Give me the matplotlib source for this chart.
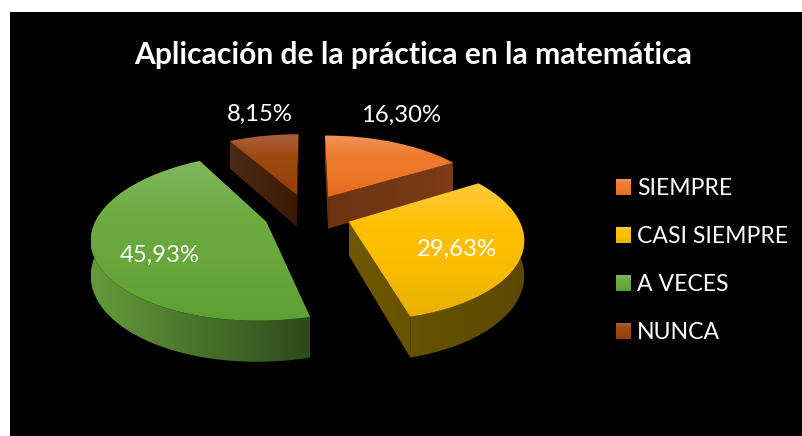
import numpy as np
import matplotlib
matplotlib.use('Agg')
import matplotlib.pyplot as plt
from matplotlib.colors import to_rgb
from matplotlib.patches import PathPatch, Rectangle
from matplotlib.path import Path

categories = ['SIEMPRE', 'CASI SIEMPRE', 'A VECES', 'NUNCA']
values = [16.30, 29.63, 45.93, 8.15]
title = 'Aplicación de la práctica en la matemática'

top_colors = [['#F0935C', '#EE7B2E', '#EC7726', '#E56B1C'],
              ['#FFC93E', '#FFC000', '#F8BC00', '#E8B100'],
              ['#7FB85E', '#6CAC40', '#66A63A', '#5FA035'],
              ['#AB6242', '#A04A10', '#9A4509', '#923F05']]
wall_colors = [['#6C3312', '#7B3C16'],
               ['#6E5800', '#5C4900'],
               ['#659A3C', '#2C4A1A'],
               ['#4E2A16', '#3A1900']]
label_pos = [(401, 115), (457, 249), (160, 255), (260, 114)]
legend_y = [187, 235, 283, 331]

FONT = 'Lato'
CX, CY = 307.5, 214
RX, RY = 168, 78
PERSP = 0.18
EXPLODE = 0.26
DEPTH = 33


def project(x, y):
    f = 1 / (1 + PERSP * y)
    return CX + RX * x * f, CY - RY * y * f, DEPTH * f


def ramp(colors, vertical):
    stops = np.linspace(0, 1, len(colors))
    rgb = np.array([to_rgb(c) for c in colors])
    pos = np.linspace(0, 1, 200)
    img = np.stack([np.interp(pos, stops, rgb[:, i]) for i in range(3)], axis=-1)
    if vertical:
        return img[:, None, :]
    return img[None, :, :]


def fill_gradient(ax, pts, extent, colors, vertical):
    patch = PathPatch(Path(pts), fc='none', ec='none', transform=ax.transData)
    ax.add_patch(patch)
    im = ax.imshow(ramp(colors, vertical), extent=extent, aspect='auto',
                   interpolation='bilinear', zorder=2)
    im.set_clip_path(patch)


def draw_slice(ax, start, end, top_cols, wall_cols):
    mid = (start + end) / 2
    ox, oy = EXPLODE * np.sin(mid), EXPLODE * np.cos(mid)
    t = np.linspace(start, end, 80)
    rim = project(ox + np.sin(t), oy + np.cos(t))
    apex = project(ox, oy)
    rim_top = np.column_stack([rim[0], rim[1]])
    rim_low = np.column_stack([rim[0], rim[1] + rim[2]])
    apex_top = np.array([[apex[0], apex[1]]])
    apex_low = np.array([[apex[0], apex[1] + apex[2]]])
    top = np.vstack([apex_top, rim_top, apex_top])

    all_x = np.concatenate([rim[0], [apex[0]]])
    all_y = np.concatenate([rim[1], [apex[1]]])
    wall_ext = (all_x.min(), all_x.max(), all_y.max() + 60, all_y.min())
    top_ext = (all_x.min(), all_x.max(), all_y.max(), all_y.min())

    faces = [np.vstack([apex_top, rim_top[:1], rim_low[:1], apex_low, apex_top]),
             np.vstack([apex_top, rim_top[-1:], rim_low[-1:], apex_low, apex_top]),
             np.vstack([rim_top, rim_low[::-1], rim_top[:1]])]
    for face in faces:
        fill_gradient(ax, face, wall_ext, wall_cols, False)
    fill_gradient(ax, top, top_ext, top_cols, True)


fig = plt.figure(figsize=(8.02, 4.36), dpi=100, facecolor='white')
ax = fig.add_axes([0, 0, 1, 1])
ax.axis('off')
ax.add_patch(Rectangle((10, 12), 792, 424, fc='black', ec='none', zorder=0))

edges = np.radians(np.cumsum([0] + values) / sum(values) * 360)
for i in [3, 0, 2, 1]:
    draw_slice(ax, edges[i], edges[i + 1], top_colors[i], wall_colors[i])

for val, (x, y) in zip(values, label_pos):
    ax.text(x, y, f'{val:.2f}%'.replace('.', ','), color='white', fontsize=17.2,
            family=FONT, ha='center', va='center', zorder=5)

ax.text(413, 55, title, color='white', fontsize=21.6, fontweight='bold',
        family=FONT, ha='center', va='center', zorder=5)

for name, y, cols in zip(categories, legend_y, top_colors):
    fill_gradient(ax, [(616, y - 8), (631, y - 8), (631, y + 8), (616, y + 8), (616, y - 8)],
                  (616, 631, y + 8, y - 8), cols, True)
    ax.text(637, y + 1, name, color='white', fontsize=16.6, family=FONT,
            ha='left', va='center', zorder=5)

ax.set_xlim(0, 802)
ax.set_ylim(436, 0)
fig.savefig('out.png', dpi=100, facecolor='white')
